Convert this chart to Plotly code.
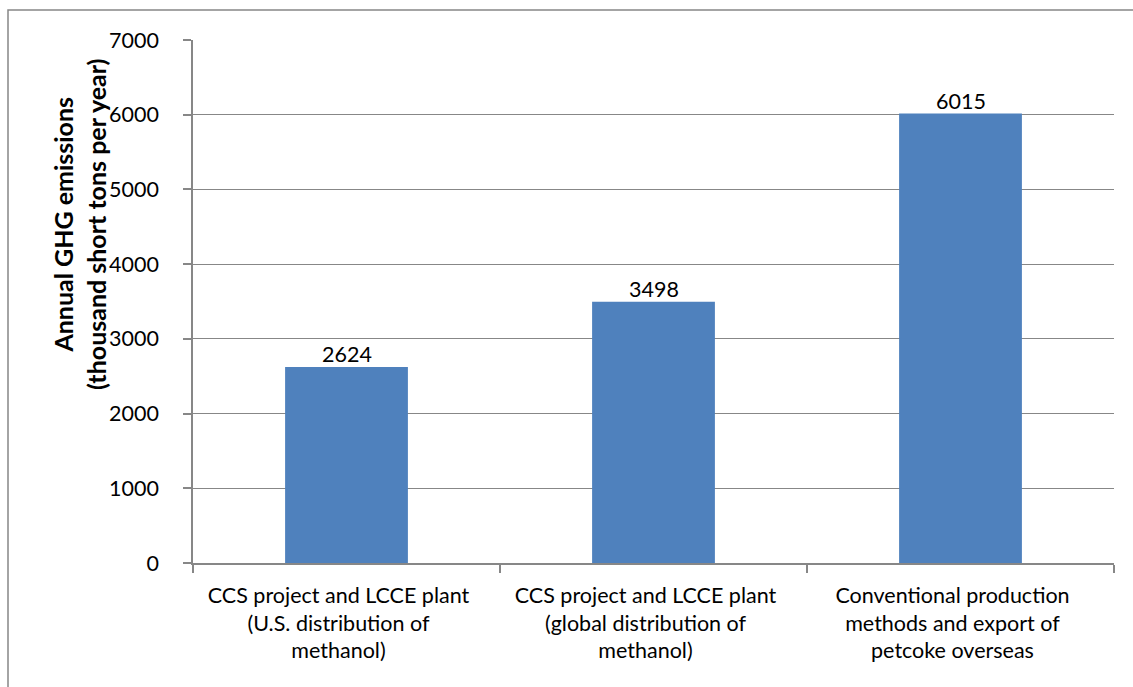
import plotly.graph_objects as go

categories = [
    "CCS project and LCCE plant<br>(U.S. distribution of<br>methanol)",
    "CCS project and LCCE plant<br>(global distribution of<br>methanol)",
    "Conventional production<br>methods and export of<br>petcoke overseas",
]
emissions = [2624, 3498, 6015]
y_ticks = [0, 1000, 2000, 3000, 4000, 5000, 6000, 7000]

BAR_COLOR = "#4F81BD"
AXIS_COLOR = "#878787"
FONT = "Lato, 'Open Sans', sans-serif"
FS = 21.5

# plot area in pixels (used for the outer frame and the axis title)
L, R, T, B = 193, 19, 40, 124
PW, PH = 1133 - L - R, 687 - T - B

fig = go.Figure()
fig.add_trace(go.Bar(
    x=categories,
    y=emissions,
    marker_color=BAR_COLOR,
    marker_line=dict(width=0),
    hovertemplate="%{y}<extra></extra>",
))

# value labels sit right on top of the bars
labels = [
    dict(x=c, y=v, text=str(v), xref="x", yref="y",
         showarrow=False, yanchor="bottom", yshift=-2,
         font=dict(size=FS, color="black", family=FONT))
    for c, v in zip(categories, emissions)
]

# axis title sits above the plot centre, as in the original
labels.append(dict(
    text="<b>Annual GHG emissions<br>(thousand short tons per year)</b>",
    xref="paper", yref="paper",
    x=(80 - L) / PW, y=(T + PH - 225) / PH,
    xanchor="center", yanchor="middle",
    textangle=-90, showarrow=False,
    font=dict(size=25, color="black", family=FONT),
))

fig.update_layout(
    width=1133, height=687,
    margin=dict(l=L, r=R, t=T, b=B),
    paper_bgcolor="white",
    plot_bgcolor="white",
    bargap=0.6,
    showlegend=False,
    font=dict(family=FONT, size=FS, color="black"),
    xaxis=dict(
        showline=True, linecolor=AXIS_COLOR, linewidth=1.5,
        ticks="outside", tickson="boundaries", ticklen=8,
        tickcolor=AXIS_COLOR, tickwidth=1.5,
        ticklabelstandoff=12, ticklabelshift=-8,
        showgrid=False,
        tickfont=dict(size=FS, color="black", family=FONT),
    ),
    yaxis=dict(
        range=[0, 7000],
        tickvals=y_ticks,
        showline=True, linecolor=AXIS_COLOR, linewidth=1.5,
        ticks="outside", ticklen=8, tickcolor=AXIS_COLOR, tickwidth=1.5,
        ticklabelstandoff=20,
        showgrid=True, gridcolor=AXIS_COLOR, gridwidth=1.2,
        zeroline=False,
        tickfont=dict(size=FS, color="black", family=FONT),
    ),
    annotations=labels,
    shapes=[dict(
        type="rect", xref="paper", yref="paper",
        x0=(8 - L) / PW, x1=(1145 - L) / PW,
        y0=(T + PH - 700) / PH, y1=(T + PH - 10) / PH,
        line=dict(color=AXIS_COLOR, width=1.5),
        fillcolor="rgba(0,0,0,0)",
        layer="below",
    )],
)

# drop the browser's default 8px body margin so the figure sits at 0,0
fig.write_html(
    "out.html",
    config={"displayModeBar": False},
    post_script="document.body.style.margin = '0';",
)
